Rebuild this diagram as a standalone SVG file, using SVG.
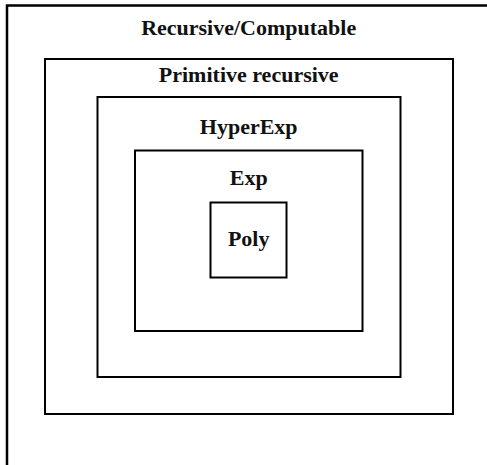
<svg xmlns="http://www.w3.org/2000/svg" width="487" height="465" viewBox="0 0 487 465">
<style>
.box{fill:none;stroke:#000;stroke-width:2}
.lbl{font-family:"Liberation Serif","Times New Roman",serif;font-weight:bold;font-size:22px;fill:#111;text-anchor:middle}
</style>
<rect width="487" height="465" fill="#fff"/>
<g id="recursive">
<rect class="box" x="7" y="5.5" width="495" height="480" style="stroke-width:2.5"/>
<text class="lbl" x="248.7" y="35">Recursive/Computable</text>
</g>
<g id="primitive">
<rect class="box" x="45" y="59" width="408" height="355"/>
<text class="lbl" x="248.7" y="82">Primitive recursive</text>
</g>
<g id="hyperexp">
<rect class="box" x="97.5" y="97" width="303" height="280"/>
<text class="lbl" x="248.7" y="134">HyperExp</text>
</g>
<g id="exp">
<rect class="box" x="135" y="150.5" width="227.5" height="180.5"/>
<text class="lbl" x="248.7" y="185">Exp</text>
</g>
<g id="poly">
<rect class="box" x="210.5" y="202.5" width="76" height="75"/>
<text class="lbl" x="248.7" y="246">Poly</text>
</g>
<g id="connectors"></g>
</svg>
